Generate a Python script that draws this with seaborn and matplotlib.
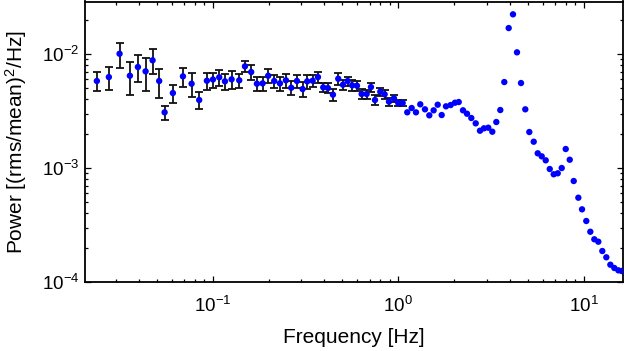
import numpy as np
import pandas as pd
import matplotlib
matplotlib.use("Agg")
import matplotlib.pyplot as plt
import seaborn as sns
from matplotlib.ticker import LogLocator, NullFormatter

# ---- data ----
freq_err = [0.02375, 0.02756, 0.03148, 0.03578, 0.03953, 0.04348, 0.04742, 0.05147,
            0.05505, 0.0610, 0.06911, 0.07696, 0.08456, 0.09305, 0.1003, 0.1084,
            0.1164, 0.1264, 0.139, 0.1492, 0.1612, 0.1731, 0.1858, 0.1991, 0.2145,
            0.2303, 0.2481, 0.265, 0.2844, 0.3052, 0.3231, 0.3455, 0.3691, 0.3942,
            0.4178, 0.4446, 0.4748, 0.5034, 0.5336, 0.5649, 0.599, 0.6348, 0.6754,
            0.7125, 0.7489, 0.7998, 0.8446, 0.8909, 0.948, 1.0, 1.056]
power_err_e3 = [5.80, 6.28, 10.06, 6.45, 7.69, 7.05, 8.81, 5.80, 3.08, 4.55, 6.37,
                5.49, 3.95, 5.83, 5.98, 6.25, 5.76, 6.00, 5.88, 7.80, 6.95, 5.49,
                5.53, 6.45, 5.80, 5.53, 5.88, 5.06, 5.80, 4.93, 5.76, 5.83, 6.28,
                5.10, 5.03, 4.40, 6.07, 5.38, 5.80, 5.31, 5.27, 4.46, 4.46, 5.13,
                3.95, 4.67, 4.43, 3.82, 4.09, 3.72, 3.72]
sigma_e3 = [1.09, 1.45, 2.54, 2.05, 2.05, 2.27, 2.17, 1.65, 0.44, 0.85, 1.21, 1.30,
            0.67, 0.99, 0.90, 0.98, 0.92, 1.07, 0.86, 0.91, 1.00, 0.74, 0.75, 0.90,
            0.80, 0.75, 0.85, 0.70, 0.80, 0.70, 0.80, 0.70, 0.70, 0.50, 0.50, 0.50,
            0.70, 0.55, 0.55, 0.55, 0.50, 0.45, 0.40, 0.45, 0.40, 0.40, 0.38, 0.30,
            0.28, 0.25, 0.25]

freq_hi = [1.118, 1.181, 1.246, 1.314, 1.393, 1.47, 1.551, 1.631, 1.714, 1.808,
           1.916, 2.021, 2.117, 2.233, 2.347, 2.475, 2.614, 2.757, 2.897, 3.056,
           3.212, 3.376, 3.547, 3.728, 3.936, 4.152, 4.364, 4.586, 4.837, 5.084,
           5.37, 5.644, 5.93, 6.232, 6.55, 6.882, 7.234, 7.602, 7.988, 8.395,
           8.822, 9.342, 9.779, 10.31, 10.84, 11.39, 11.97, 12.58, 13.22, 13.9,
           14.6, 15.35, 16.0]
power_hi_e3 = [3.081, 3.36, 3.081, 3.621, 3.273, 2.899, 3.207, 3.592, 2.916, 3.477,
               3.569, 3.74, 3.793, 3.207, 2.994, 2.745, 2.466, 2.124, 2.23, 2.257,
               2.082, 2.532, 3.227, 5.68, 16.9, 22.3, 10.35, 5.566, 3.273, 2.069,
               1.701, 1.346, 1.266, 1.168, 0.980, 0.881, 0.899, 1.0, 1.468, 1.182,
               0.769, 0.549, 0.434, 0.343, 0.276, 0.237, 0.2257, 0.187, 0.1647,
               0.1418, 0.1327, 0.1266, 0.1249]

x_label = "Frequency [Hz]"
y_label = "Power [(rms/mean)$^2$/Hz]"

# ---- build tables ----
df_err = pd.DataFrame({"freq": freq_err,
                       "power": np.array(power_err_e3) * 1e-3,
                       "sigma": np.array(sigma_e3) * 1e-3})
df_hi = pd.DataFrame({"freq": freq_hi, "power": np.array(power_hi_e3) * 1e-3})
df_all = pd.concat([df_err[["freq", "power"]], df_hi], ignore_index=True)

sns.set_style("ticks")
plt.rcParams["font.family"] = ["Liberation Sans", "DejaVu Sans"]
plt.rcParams["mathtext.fontset"] = "custom"
plt.rcParams["mathtext.rm"] = "Liberation Sans"
plt.rcParams["mathtext.it"] = "Liberation Sans:italic"
plt.rcParams["mathtext.bf"] = "Liberation Sans:bold"
plt.rcParams["text.color"] = "black"
plt.rcParams["axes.labelcolor"] = "black"
plt.rcParams["xtick.color"] = "black"
plt.rcParams["ytick.color"] = "black"
plt.rcParams["xtick.labelcolor"] = "black"
plt.rcParams["ytick.labelcolor"] = "black"

fig = plt.figure(figsize=(6.24, 3.51), dpi=100)
ax = fig.add_axes([85 / 624, (351 - 282) / 351, (622.7 - 85) / 624, (282 - 1.5) / 351])

ax.set_xscale("log")
ax.set_yscale("log")

ax.errorbar(df_err["freq"], df_err["power"], yerr=df_err["sigma"], fmt="none",
            ecolor="#111111", elinewidth=1.3, capsize=2.6, capthick=1.3, zorder=2)
sns.scatterplot(data=df_all, x="freq", y="power", ax=ax, color="#0000ff",
                s=21, edgecolor="none", linewidth=0, zorder=3, clip_on=True)

ax.set_xlim(0.0205, 16.2)
ax.set_ylim(1e-4, 0.0289)

ax.xaxis.set_major_locator(LogLocator(base=10, numticks=10))
ax.xaxis.set_minor_locator(LogLocator(base=10, subs=np.arange(2, 10), numticks=20))
ax.yaxis.set_major_locator(LogLocator(base=10, numticks=10))
ax.yaxis.set_minor_locator(LogLocator(base=10, subs=np.arange(2, 10), numticks=20))
ax.xaxis.set_minor_formatter(NullFormatter())
ax.yaxis.set_minor_formatter(NullFormatter())

ax.tick_params(which="both", direction="in", top=True, right=True, color="black",
               width=0.9)
ax.tick_params(which="major", length=4.0, labelsize=13.5)
ax.tick_params(which="minor", length=2.2)
ax.tick_params(axis="x", which="major", pad=10)
ax.tick_params(axis="y", which="major", pad=4)

for sp in ax.spines.values():
    sp.set_linewidth(1.3)
    sp.set_color("black")

ax.set_xlabel(x_label, fontsize=15, labelpad=9)
ax.set_ylabel(y_label, fontsize=15, labelpad=9)

fig.savefig("out.png", dpi=100)
